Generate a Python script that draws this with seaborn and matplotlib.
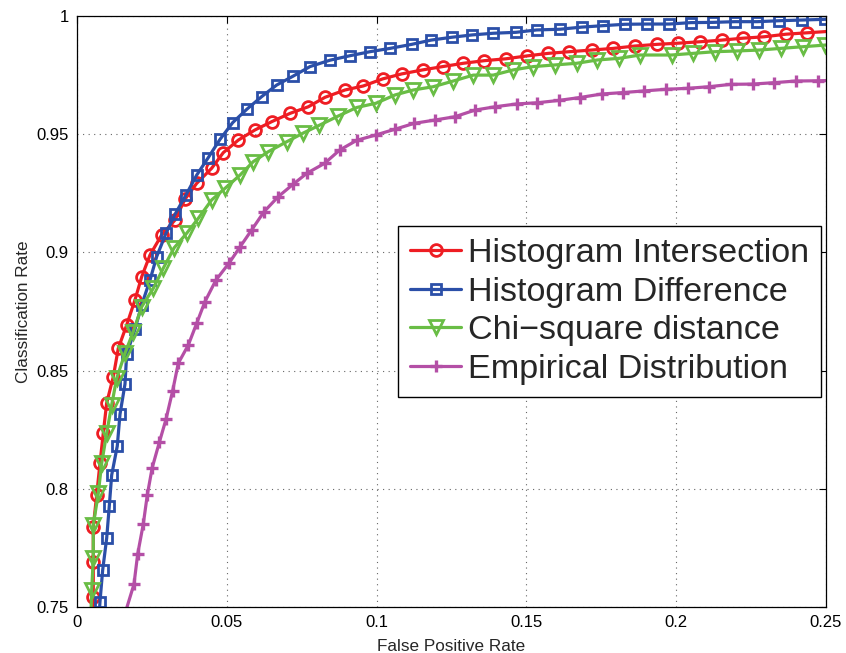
import matplotlib
matplotlib.use("Agg")
import matplotlib.pyplot as plt
import seaborn as sns
import numpy as np
from matplotlib.ticker import FixedLocator, FormatStrFormatter

# ---------------- data ----------------
labels = ["Histogram Intersection", "Histogram Difference",
          "Chi\u2212square distance", "Empirical Distribution"]

hi_fpr = [0.0052, 0.00544, 0.00544, 0.00544, 0.00658, 0.00768, 0.00878, 0.00991, 0.01212,
          0.01378, 0.01659, 0.01936, 0.02160, 0.02437, 0.02827, 0.03271, 0.03605,
          0.03995, 0.04496, 0.04883, 0.05384, 0.05941, 0.06499, 0.07109, 0.07720,
          0.08278, 0.08945, 0.09556, 0.10204, 0.10838, 0.11539, 0.12206, 0.12894,
          0.13595, 0.14319, 0.15010, 0.15731, 0.16432, 0.17180, 0.17901, 0.18625,
          0.19349, 0.20070, 0.20794, 0.21518, 0.22219, 0.22931, 0.23665, 0.24376, 0.2510]
hi_tpr = [0.745, 0.7544, 0.7692, 0.7840, 0.7974, 0.8109, 0.8236, 0.8363, 0.8474,
          0.8594, 0.8693, 0.8799, 0.8897, 0.8989, 0.9074, 0.9137, 0.9225,
          0.9292, 0.9356, 0.9422, 0.9475, 0.9518, 0.9553, 0.9588, 0.9616,
          0.9656, 0.9687, 0.9704, 0.9734, 0.9755, 0.9772, 0.9786, 0.9800,
          0.9811, 0.9819, 0.9831, 0.9842, 0.9849, 0.9856, 0.9863, 0.9873,
          0.9880, 0.9885, 0.9891, 0.9898, 0.9906, 0.9912, 0.9923, 0.9929, 0.9935]

hd_fpr = [0.0073, 0.00768, 0.00858, 0.00991, 0.01078, 0.01158, 0.01345, 0.01435, 0.01602,
          0.01659, 0.01936, 0.02160, 0.02437, 0.02660, 0.02971, 0.03271, 0.03638,
          0.03995, 0.04382, 0.04773, 0.05197, 0.05664, 0.06165, 0.06665, 0.07220,
          0.07777, 0.08444, 0.09112, 0.09780, 0.10447, 0.11171, 0.11816, 0.12506,
          0.13194, 0.13895, 0.14653, 0.15344, 0.16121, 0.16846, 0.17547, 0.18291,
          0.19035, 0.19770, 0.20494, 0.21218, 0.21963, 0.22707, 0.23441, 0.24209,
          0.24967, 0.2510]
hd_tpr = [0.745, 0.7523, 0.7657, 0.7791, 0.7927, 0.8058, 0.8181, 0.8315, 0.8443,
          0.8570, 0.8675, 0.8778, 0.8883, 0.8982, 0.9081, 0.9161, 0.9243,
          0.9327, 0.9401, 0.9478, 0.9549, 0.9605, 0.9659, 0.9708, 0.9746,
          0.9786, 0.9813, 0.9832, 0.9849, 0.9863, 0.9880, 0.9898, 0.9910,
          0.9920, 0.9927, 0.9931, 0.9941, 0.9944, 0.9953, 0.9959, 0.9965,
          0.9966, 0.9966, 0.9972, 0.9973, 0.9976, 0.9976, 0.9980, 0.9983,
          0.9986, 0.9987]

cs_fpr = [0.0046, 0.00491, 0.00544, 0.00544, 0.00711, 0.00824, 0.00991, 0.01158, 0.01325,
          0.01602, 0.01879, 0.02160, 0.02547, 0.02880, 0.03240, 0.03662, 0.04049,
          0.04496, 0.04940, 0.05441, 0.05885, 0.06385, 0.06999, 0.07553, 0.08077,
          0.08722, 0.09336, 0.09980, 0.10614, 0.11225, 0.11893, 0.12560, 0.13228,
          0.13895, 0.14563, 0.15230, 0.15955, 0.16679, 0.17373, 0.18101, 0.18792,
          0.19850, 0.20571, 0.21295, 0.22019, 0.22774, 0.23488, 0.24222, 0.24967, 0.2510]
cs_tpr = [0.745, 0.7572, 0.7706, 0.7847, 0.7981, 0.8108, 0.8235, 0.8355, 0.8467,
          0.8573, 0.8665, 0.8770, 0.8848, 0.8933, 0.9019, 0.9081, 0.9144,
          0.9222, 0.9271, 0.9327, 0.9384, 0.9426, 0.9468, 0.9505, 0.9537,
          0.9577, 0.9613, 0.9631, 0.9666, 0.9687, 0.9701, 0.9725, 0.9750,
          0.9750, 0.9772, 0.9786, 0.9793, 0.9800, 0.9814, 0.9821, 0.9835,
          0.9835, 0.9842, 0.9849, 0.9852, 0.9856, 0.9863, 0.9870, 0.9877, 0.9878]

ed_fpr = [0.0155, 0.01903, 0.02026, 0.02213, 0.02347, 0.02510, 0.02747, 0.02971, 0.03194,
          0.03381, 0.03715, 0.03995, 0.04272, 0.04639, 0.05083, 0.05441, 0.05831,
          0.06242, 0.06719, 0.07220, 0.07677, 0.08268, 0.08768, 0.09336, 0.09980,
          0.10614, 0.11258, 0.11949, 0.12617, 0.13284, 0.13952, 0.14676, 0.15364,
          0.16088, 0.16776, 0.17513, 0.18214, 0.18925, 0.19660, 0.20384, 0.21105,
          0.21829, 0.22553, 0.23274, 0.23999, 0.24743, 0.2510]
ed_tpr = [0.745, 0.7597, 0.7724, 0.7851, 0.7974, 0.8089, 0.8196, 0.8294, 0.8415,
          0.8531, 0.8608, 0.8700, 0.8792, 0.8883, 0.8956, 0.9023, 0.9095,
          0.9172, 0.9236, 0.9289, 0.9335, 0.9377, 0.9433, 0.9474, 0.9497,
          0.9521, 0.9546, 0.9560, 0.9574, 0.9602, 0.9616, 0.9628, 0.9633,
          0.9643, 0.9655, 0.9670, 0.9676, 0.9683, 0.9690, 0.9694, 0.9701,
          0.9711, 0.9712, 0.9718, 0.9725, 0.9726, 0.9727]

x_ticks = [0, 0.05, 0.1, 0.15, 0.2, 0.25]
y_ticks = [0.75, 0.8, 0.85, 0.9, 0.95, 1.0]

# ---------------- style ----------------
sns.set_style("white")
plt.rcParams['font.family'] = ['Liberation Sans', 'DejaVu Sans']

colors = ["#EE1D23", "#2B4FA8", "#69BD45", "#B44FA6"]
markers = ["o", "s", "v", "+"]
msizes = [8.5, 7.0, 10, 9]

fig = plt.figure(figsize=(8.46, 6.53), dpi=100)
ax = fig.add_axes([0.091, 0.0704, 0.8853, 0.9051])

series = [(hi_fpr, hi_tpr), (hd_fpr, hd_tpr), (cs_fpr, cs_tpr), (ed_fpr, ed_tpr)]
for i, (xs, ys) in enumerate(series):
    marker = markers[i]
    kw = dict(marker=marker, markersize=msizes[i], markeredgecolor=colors[i],
              markeredgewidth=2.0, markerfacecolor="none")
    if marker == "+":
        kw = dict(marker="+", markersize=msizes[i], markeredgecolor=colors[i],
                  markeredgewidth=2.4)
    n = len(xs)
    last = n - 1 if xs[-1] > 0.25 else n
    sns.lineplot(x=xs, y=ys, ax=ax, color=colors[i], linewidth=2.3,
                 estimator=None, sort=False, label=labels[i],
                 markevery=list(range(1, last)), **kw)

ax.set_xlim(0, 0.25)
ax.set_ylim(0.75, 1.0)
ax.xaxis.set_major_locator(FixedLocator(x_ticks))
ax.yaxis.set_major_locator(FixedLocator(y_ticks))
ax.xaxis.set_major_formatter(FormatStrFormatter('%g'))
ax.yaxis.set_major_formatter(FormatStrFormatter('%g'))
ax.tick_params(direction='in', length=5, width=0.8, top=True, right=True,
               labelsize=12, colors='black', pad=6)
ax.grid(True, linestyle=(0, (1, 4)), color='#666666', linewidth=0.8)
for s in ax.spines.values():
    s.set_visible(True)
    s.set_color('black')
    s.set_linewidth(0.9)

ax.set_xlabel("False Positive Rate", fontsize=12.3, labelpad=6)
ax.set_ylabel("Classification Rate", fontsize=12.3, labelpad=4)

leg = ax.legend(loc='center left', bbox_to_anchor=(0.4286, 0.5), fontsize=24.6,
                frameon=True, fancybox=False, framealpha=1, edgecolor='black',
                handlelength=1.5, handletextpad=0.2, labelspacing=0.23,
                borderpad=0.35, borderaxespad=0, numpoints=1)
leg.get_frame().set_linewidth(1.0)

fig.savefig("out.png", dpi=100)
